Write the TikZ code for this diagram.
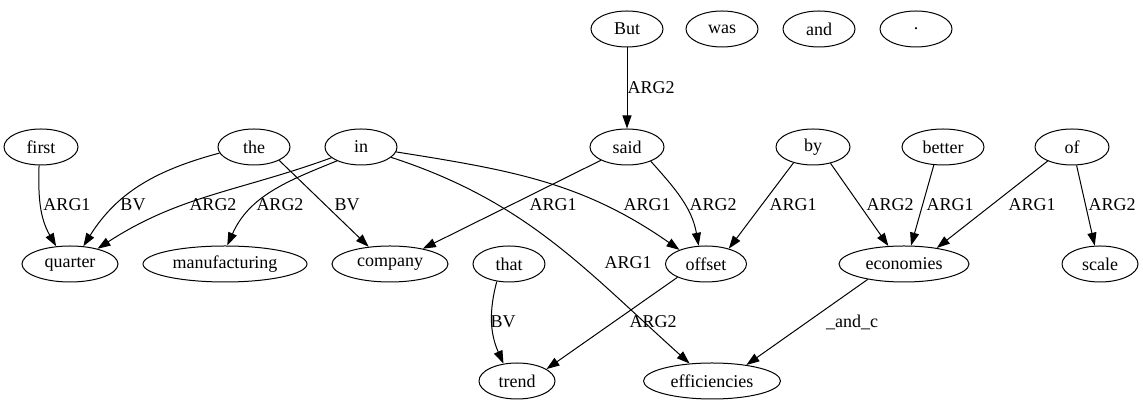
\documentclass[tikz,border=0pt]{standalone}
\usepackage{fontspec}
\setmainfont{Liberation Serif}
\usetikzlibrary{shapes.geometric,arrows.meta}
\begin{document}
\begin{tikzpicture}[x=1pt,y=1pt,
  nd/.style={ellipse,draw,line width=1pt,minimum height=36pt,inner sep=0pt,font=\fontsize{18}{20}\selectfont},
  e/.style={draw,line width=1pt,-{Triangle[length=13pt,width=9pt]}},
  lbl/.style={font=\fontsize{18}{20}\selectfont,inner sep=0pt}]
\useasboundingbox (0,0) rectangle (1143,411);
% top row
\node[nd,minimum width=72pt] (nBut) at (627,382) {But};
\node[nd,minimum width=72pt] (nwas) at (722,382) {was};
\node[nd,minimum width=72pt] (nand) at (819,382) {and};
\node[nd,minimum width=72pt] (ndot) at (916,382) {.};
% second row
\node[nd,minimum width=74pt] (nfirst) at (41,264) {first};
\node[nd,minimum width=72pt] (nthe) at (254,264) {the};
\node[nd,minimum width=72pt] (nin) at (361,264) {in};
\node[nd,minimum width=74pt] (nsaid) at (627,264) {said};
\node[nd,minimum width=74pt] (nby) at (813,264) {by};
\node[nd,minimum width=82pt] (nbetter) at (943,264) {better};
\node[nd,minimum width=74pt] (nof) at (1072,264) {of};
% third row
\node[nd,minimum width=96pt] (nquarter) at (70,147) {quarter};
\node[nd,minimum width=164pt] (nmanufacturing) at (225,147) {manufacturing};
\node[nd,minimum width=116pt] (ncompany) at (390,147) {company};
\node[nd,minimum width=72pt] (nthat) at (509,147) {that};
\node[nd,minimum width=81pt] (noffset) at (706,147) {offset};
\node[nd,minimum width=130pt] (neconomies) at (904,147) {economies};
\node[nd,minimum width=76pt] (nscale) at (1100,147) {scale};
% bottom row
\node[nd,minimum width=76pt] (ntrend) at (517,30) {trend};
\node[nd,minimum width=137pt] (nefficiencies) at (712,30) {efficiencies};
% edges
\draw[e] (nBut) -- (nsaid) node[lbl] at (651,323) {ARG2};
\draw[e] (nfirst.264) to[out=-92,in=120] (nquarter.128) node[lbl] at (67,206) {ARG1};
\draw[e] (nthe.190) to[out=195,in=58] (nquarter.53) node[lbl] at (133,206) {BV};
\draw[e] (nin.200) to[out=200,in=33] (nquarter.29) node[lbl] at (213,206) {ARG2};
\draw[e] (nin.210) to[out=202,in=66] (nmanufacturing.83) node[lbl] at (280,206) {ARG2};
\draw[e] (nthe.-28) -- (ncompany.141) node[lbl] at (347,206) {BV};
\draw[e] (nsaid.207) -- (ncompany.25) node[lbl] at (553,206) {ARG1};
\draw[e] (nin.-8) to[out=-9,in=145] (noffset.152) node[lbl] at (647,206) {ARG1};
\draw[e] (nsaid.-31) to[out=-48,in=100] (noffset.112) node[lbl] at (713,206) {ARG2};
\draw[e] (nby.219) -- (noffset.34) node[lbl] at (793,206) {ARG1};
\draw[e] (nby.-43) -- (neconomies.131) node[lbl] at (890,206) {ARG2};
\draw[e] (nbetter.243) -- (neconomies.69) node[lbl] at (950,206) {ARG1};
\draw[e] (nof.210) -- (neconomies.26) node[lbl] at (1032,206) {ARG1};
\draw[e] (nof.-76) -- (nscale.106) node[lbl] at (1112,206) {ARG2};
\draw[e] (nin.-19) to[out=-18,in=138] (nefficiencies.142) node[lbl] at (628,148) {ARG1};
\draw[e] (nthat.235) to[out=-105,in=114] (ntrend.128) node[lbl] at (503,89) {BV};
\draw[e] (noffset.205) -- (ntrend.22) node[lbl] at (653,89) {ARG2};
\draw[e] (neconomies.203) -- (nefficiencies.25) node[lbl] at (852,89) {\_and\_c};
\end{tikzpicture}
\end{document}
